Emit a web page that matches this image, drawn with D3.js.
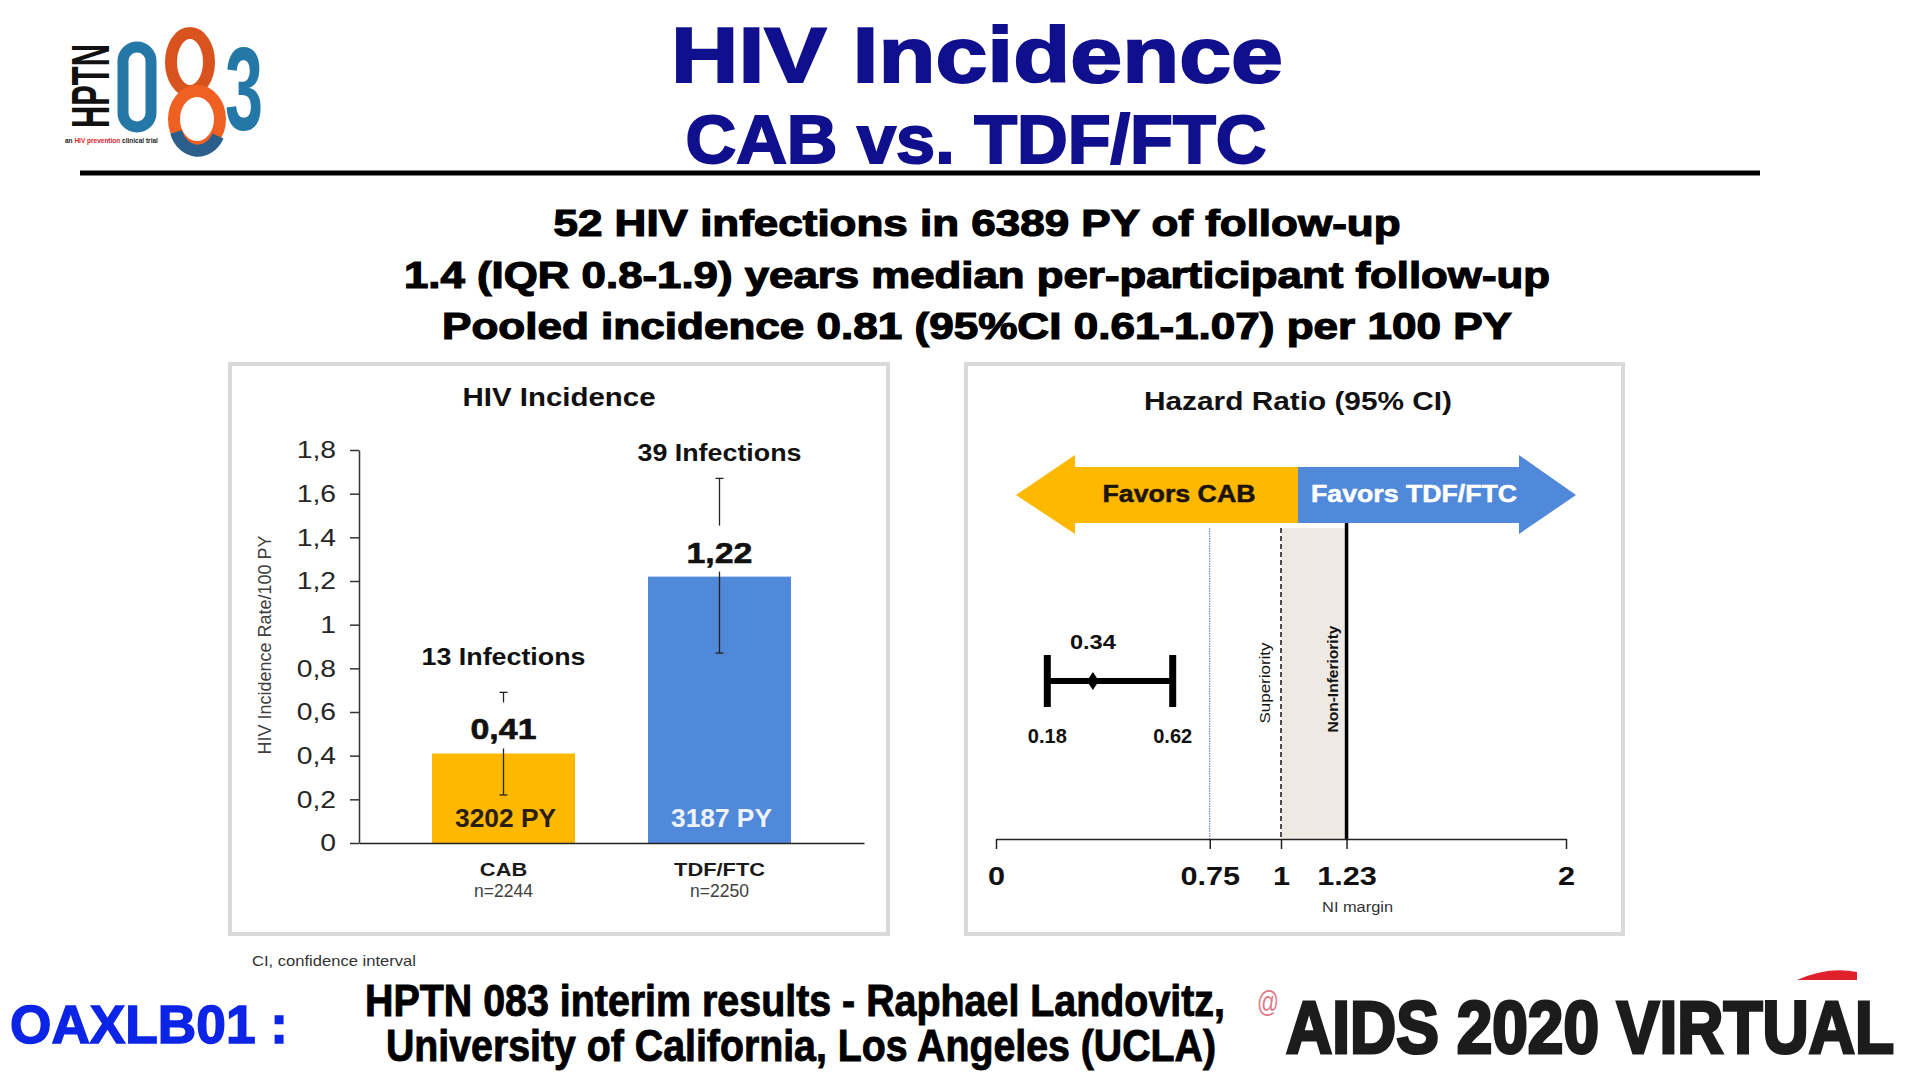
<!DOCTYPE html>
<html>
<head>
<meta charset="utf-8">
<script src="https://cdn.jsdelivr.net/npm/d3@7"></script>
<style>
  body { margin: 0; background: #fff; }
  svg { display: block; font-family: "Liberation Sans", Arial, sans-serif; }
</style>
</head>
<body>
<script>
// ---- data ----
const groups = ["CAB", "TDF/FTC"];
const groupN = ["n=2244", "n=2250"];
const incidence = [0.41, 1.22];
const ciLow = [0.22, 0.87];
const ciHigh = [0.69, 1.67];
const infections = [13, 39];
const personYears = [3202, 3187];
const incidenceTicks = [0, 0.2, 0.4, 0.6, 0.8, 1, 1.2, 1.4, 1.6, 1.8];
const barColors = ["#FFB800", "#5089D9"];

const hrPoint = 0.34;
const hrLow = 0.18;
const hrHigh = 0.62;
const hrTicks = [0, 0.75, 1, 1.23, 2];
const refLine = 0.75;
const superiorityBound = 1;
const niMargin = 1.23;

const subtitles = [
  "52 HIV infections in 6389 PY of follow-up",
  "1.4 (IQR 0.8-1.9) years median per-participant follow-up",
  "Pooled incidence 0.81 (95%CI 0.61-1.07) per 100 PY"
];

// slide text is a bit wider than plain Arial
const K = 1.18;

const svg = d3.select("body").append("svg")
  .attr("width", 1920)
  .attr("height", 1078);
svg.append("rect").attr("width", 1920).attr("height", 1078).attr("fill", "#fff");

function stretch(sel, k = K) {
  sel.each(function () {
    const w = this.getComputedTextLength();
    d3.select(this).attr("textLength", w * k).attr("lengthAdjust", "spacingAndGlyphs");
  });
}

function label(parent, str, x, y, size, o = {}) {
  let host = parent, tx = x, ty = y;
  if (o.sy) {
    // tall text: smaller font stretched vertically
    host = parent.append("g").attr("transform", `translate(${x},${y}) scale(1,${o.sy})`);
    tx = 0; ty = 0;
  }
  const t = host.append("text")
    .attr("x", tx)
    .attr("y", ty)
    .attr("font-size", size)
    .attr("font-weight", o.weight || "bold")
    .attr("fill", o.fill || "#111")
    .attr("text-anchor", o.anchor || "middle")
    .text(str);
  if (o.heavy) t.attr("stroke", o.fill || "#111").attr("stroke-width", o.heavy);
  if (o.w) t.attr("textLength", o.w).attr("lengthAdjust", "spacingAndGlyphs");
  else stretch(t, o.k || K);
  return t;
}

// ---- header ----
const logo = svg.append("g");
logo.append("text")
  .attr("transform", "translate(109,128) rotate(-90) scale(1,1.75)")
  .attr("font-size", 31).attr("font-weight", "bold").attr("fill", "#111")
  .attr("textLength", 84).attr("lengthAdjust", "spacingAndGlyphs")
  .text("HPTN");
// the "0" of the logo
logo.append("rect")
  .attr("x", 123).attr("y", 47).attr("width", 28).attr("height", 80).attr("rx", 14)
  .attr("fill", "none").attr("stroke", "#2478a8").attr("stroke-width", 11);
logo.append("text")
  .attr("x", 244).attr("y", 130).attr("text-anchor", "middle")
  .attr("font-size", 118).attr("font-weight", "bold").attr("fill", "#2478a8")
  .attr("textLength", 38).attr("lengthAdjust", "spacingAndGlyphs")
  .text("3");
logo.append("ellipse")
  .attr("cx", 190).attr("cy", 62).attr("rx", 19).attr("ry", 29)
  .attr("fill", "none").attr("stroke", "#d9531e").attr("stroke-width", 12);
logo.append("ellipse")
  .attr("cx", 197).attr("cy", 119).attr("rx", 23).attr("ry", 28)
  .attr("fill", "none").attr("stroke", "#f06022").attr("stroke-width", 12);
logo.append("path")
  .attr("d", "M176,132 A23,28 0 0 0 218,136")
  .attr("fill", "none").attr("stroke", "#2a5f8c").attr("stroke-width", 12);
const tag = logo.append("text")
  .attr("x", 65).attr("y", 143).attr("font-size", 6.5).attr("font-weight", "bold").attr("fill", "#222");
tag.append("tspan").text("an ");
tag.append("tspan").attr("fill", "#d6202a").text("HIV prevention");
tag.append("tspan").text(" clinical trial");

label(svg, "HIV Incidence", 977, 82, 78, { w: 612, fill: "#10108e", heavy: 2 });
label(svg, "CAB vs. TDF/FTC", 976, 163, 68, { w: 581, fill: "#10108e", heavy: 2 });
svg.append("line")
  .attr("x1", 80).attr("x2", 1760).attr("y1", 173).attr("y2", 173)
  .attr("stroke", "#000").attr("stroke-width", 5);

const subW = [847, 1146, 1070];
const subY = [236, 288, 339];
subtitles.forEach((s, i) => label(svg, s, 977, subY[i], 36, { w: subW[i], fill: "#000", heavy: 1.2 }));

// ---- left panel: incidence bar chart ----
const left = svg.append("g");
left.append("rect")
  .attr("x", 230).attr("y", 364).attr("width", 658).attr("height", 570)
  .attr("fill", "#fff").attr("stroke", "#dadada").attr("stroke-width", 4);
label(left, "HIV Incidence", 559, 406, 26, { w: 193 });

const y = d3.scaleLinear().domain([0, 1.8]).range([843, 450]);
const x = d3.scaleBand().domain(groups).range([359, 864])
  .paddingInner(0.338).paddingOuter(0.338);
const bw = x.bandwidth();

const yAxis = left.append("g")
  .attr("transform", "translate(359,0)")
  .call(d3.axisLeft(y).tickValues(incidenceTicks).tickSize(9).tickSizeOuter(0).tickPadding(14)
    .tickFormat(d => String(d).replace(".", ",")));
yAxis.select(".domain").attr("stroke", "#333").attr("stroke-width", 1.5);
yAxis.selectAll(".tick line").attr("stroke", "#333").attr("stroke-width", 1.5);
yAxis.selectAll("text")
  .attr("font-size", 24).attr("font-family", "Liberation Sans, Arial, sans-serif")
  .attr("fill", "#262626").call(stretch);

left.append("text")
  .attr("transform", "translate(271,645) rotate(-90)")
  .attr("text-anchor", "middle").attr("font-size", 18).attr("fill", "#404040")
  .text("HIV Incidence Rate/100 PY");

// bars
left.selectAll(".bar")
  .data(groups)
  .enter()
  .append("rect")
  .attr("class", "bar")
  .attr("x", d => x(d))
  .attr("y", (d, i) => y(incidence[i]))
  .attr("width", bw)
  .attr("height", (d, i) => y(0) - y(incidence[i]))
  .attr("fill", (d, i) => barColors[i]);

const xAxis = left.append("g")
  .attr("transform", "translate(0,843)")
  .call(d3.axisBottom(x).tickSize(0).tickSizeOuter(0).tickPadding(20));
xAxis.select(".domain").attr("stroke", "#222").attr("stroke-width", 1.5);
xAxis.selectAll("text")
  .attr("font-size", 18.5).attr("font-weight", "bold")
  .attr("font-family", "Liberation Sans, Arial, sans-serif")
  .attr("fill", "#1a1a1a").call(stretch);

groups.forEach((g, i) => {
  label(left, groupN[i], x(g) + bw / 2, 897, 17.5, { weight: "normal", fill: "#404040", w: 59 });
});

// error bars
groups.forEach((g, i) => {
  const cx = x(g) + bw / 2;
  const eb = left.append("g").attr("stroke", "#222").attr("stroke-width", 1.3);
  eb.append("line").attr("x1", cx).attr("x2", cx).attr("y1", y(ciHigh[i])).attr("y2", y(ciLow[i]));
  eb.append("line").attr("x1", cx - 4).attr("x2", cx + 4).attr("y1", y(ciHigh[i])).attr("y2", y(ciHigh[i]));
  eb.append("line").attr("x1", cx - 4).attr("x2", cx + 4).attr("y1", y(ciLow[i])).attr("y2", y(ciLow[i]));
});

// value labels sit on a white box that hides part of the whisker
const infGap = [27, 17];
groups.forEach((g, i) => {
  const cx = x(g) + bw / 2;
  const top = y(incidence[i]);
  left.append("rect")
    .attr("x", cx - 38).attr("y", top - 51).attr("width", 76).attr("height", 46)
    .attr("fill", "#fff");
  label(left, String(incidence[i]).replace(".", ","), cx, top - 14, 30, { w: 66, heavy: 0.6 });
  label(left, infections[i] + " Infections", cx, y(ciHigh[i]) - infGap[i], 23, { w: 164 });
  label(left, personYears[i] + " PY", cx + 2, y(0) - 16, 26,
    { w: 101, fill: i === 0 ? "#2a1e0c" : "#eef3fb" });
});

// ---- right panel: hazard ratio ----
const right = svg.append("g");
right.append("rect")
  .attr("x", 966).attr("y", 364).attr("width", 657).attr("height", 570)
  .attr("fill", "#fff").attr("stroke", "#dadada").attr("stroke-width", 4);
label(right, "Hazard Ratio (95% CI)", 1298, 410, 25, { w: 308 });

const hx = d3.scaleLinear().domain([0, 2]).range([996, 1566]);
const axisY = 839;

// direction arrows
right.append("polygon")
  .attr("points", "1016,495 1075,455 1075,467 1298,467 1298,523 1075,523 1075,534")
  .attr("fill", "#FFB800");
right.append("polygon")
  .attr("points", "1298,467 1519,467 1519,455 1576,495 1519,534 1519,523 1298,523")
  .attr("fill", "#5089D9");
label(right, "Favors CAB", 1179, 502, 23, { w: 153, fill: "#1c1408", heavy: 0.5 });
label(right, "Favors TDF/FTC", 1414, 502, 23, { w: 206, fill: "#fff", heavy: 0.5 });

// non-inferiority zone
right.append("rect")
  .attr("x", hx(superiorityBound)).attr("y", 528)
  .attr("width", hx(niMargin) - hx(superiorityBound)).attr("height", axisY - 528)
  .attr("fill", "#eee9e3");
right.append("line")
  .attr("x1", hx(refLine)).attr("x2", hx(refLine)).attr("y1", 528).attr("y2", axisY)
  .attr("stroke", "#5a62c8").attr("stroke-width", 1).attr("stroke-dasharray", "1.5,1");
right.append("line")
  .attr("x1", hx(superiorityBound)).attr("x2", hx(superiorityBound)).attr("y1", 528).attr("y2", axisY)
  .attr("stroke", "#222").attr("stroke-width", 1.6).attr("stroke-dasharray", "5,3");
right.append("line")
  .attr("x1", hx(niMargin)).attr("x2", hx(niMargin)).attr("y1", 523).attr("y2", axisY)
  .attr("stroke", "#000").attr("stroke-width", 3.5);

right.append("text")
  .attr("transform", "translate(1270,683) rotate(-90)")
  .attr("text-anchor", "middle").attr("font-size", 14).attr("fill", "#111")
  .attr("textLength", 81).attr("lengthAdjust", "spacingAndGlyphs")
  .text("Superiority");
right.append("text")
  .attr("transform", "translate(1338,679) rotate(-90)")
  .attr("text-anchor", "middle").attr("font-size", 15).attr("font-weight", "bold").attr("fill", "#111")
  .attr("textLength", 107).attr("lengthAdjust", "spacingAndGlyphs")
  .text("Non-Inferiority");

const hAxis = right.append("g")
  .attr("transform", `translate(0,${axisY})`)
  .call(d3.axisBottom(hx).tickValues(hrTicks).tickSize(10).tickSizeOuter(0).tickPadding(18)
    .tickFormat(d => String(d)));
hAxis.select(".domain").attr("stroke", "#222").attr("stroke-width", 1.5);
hAxis.selectAll(".tick line").attr("stroke", "#222").attr("stroke-width", 1.5);
hAxis.selectAll("text")
  .attr("font-size", 26).attr("font-weight", "bold")
  .attr("font-family", "Liberation Sans, Arial, sans-serif")
  .attr("fill", "#111").call(stretch);
label(right, "NI margin", hx(niMargin) + 11, 912, 15.5, { weight: "normal", fill: "#333", w: 71 });

// point estimate with CI
const ciY = 681;
right.append("line")
  .attr("x1", hx(hrLow)).attr("x2", hx(hrHigh)).attr("y1", ciY).attr("y2", ciY)
  .attr("stroke", "#000").attr("stroke-width", 6);
[hrLow, hrHigh].forEach(v => {
  right.append("line")
    .attr("x1", hx(v)).attr("x2", hx(v)).attr("y1", ciY - 26).attr("y2", ciY + 26)
    .attr("stroke", "#000").attr("stroke-width", 7);
});
right.append("path")
  .attr("transform", `translate(${hx(hrPoint)},${ciY})`)
  .attr("d", "M0,-9L6,0L0,9L-6,0Z")
  .attr("fill", "#000");
label(right, String(hrPoint), hx(hrPoint), 649, 21, { w: 46 });
label(right, hrLow.toFixed(2), hx(hrLow), 743, 19.5, { w: 39 });
label(right, hrHigh.toFixed(2), hx(hrHigh), 743, 19.5, { w: 39 });

// ---- footer ----
label(svg, "CI, confidence interval", 252, 966, 14.5, { anchor: "start", weight: "normal", fill: "#333", w: 164 });
label(svg, "OAXLB01 :", 10, 1043, 54, { anchor: "start", fill: "#0b24e6", w: 278, heavy: 1.5 });
label(svg, "HPTN 083 interim results - Raphael Landovitz,", 795, 1016, 38, { w: 860, fill: "#000", heavy: 0.8, sy: 1.16 });
label(svg, "University of California, Los Angeles (UCLA)", 801, 1061, 38, { w: 830, fill: "#000", heavy: 0.8, sy: 1.16 });

svg.append("path")
  .attr("d", "M1797,980 Q1828,966 1857,972 L1857,980 Z")
  .attr("fill", "#e0202a");
label(svg, "@", 1268, 1012, 30, { weight: "normal", fill: "#e07a88", w: 22 });
label(svg, "AIDS 2020 VIRTUAL", 1286, 1053, 58, { anchor: "start", fill: "#1c1c1c", w: 608, heavy: 2.5, sy: 1.27 });
</script>
</body>
</html>
